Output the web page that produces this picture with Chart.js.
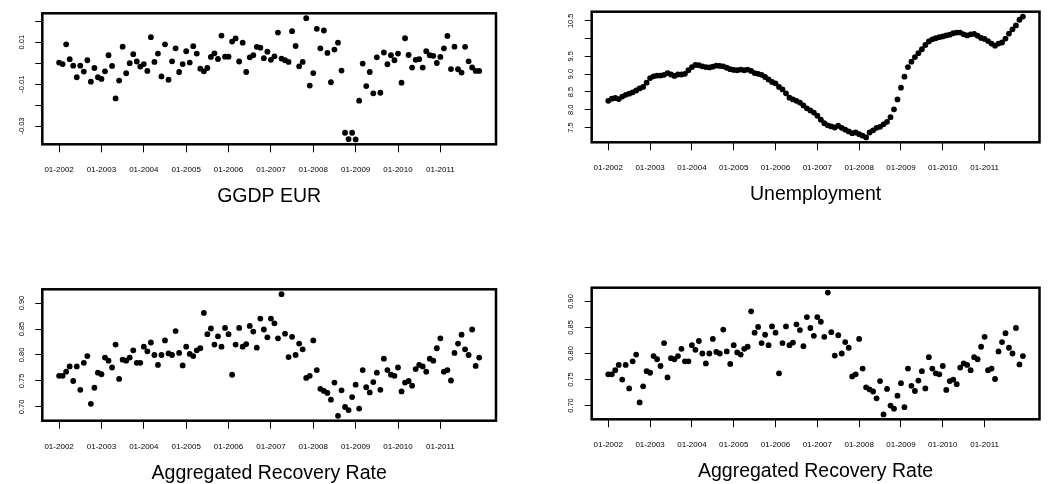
<!DOCTYPE html>
<html>
<head>
<meta charset="utf-8">
<script src="https://cdn.jsdelivr.net/npm/chart.js@4.4.1/dist/chart.umd.min.js"></script>
<style>
  html, body { margin: 0; padding: 0; background: #fff; }
  body { width: 1051px; height: 484px; position: relative; overflow: hidden; }
  canvas { position: absolute; }
</style>
</head>
<body>
<canvas id="pGgdp" width="525" height="242" style="left:0px;top:0px"></canvas>
<canvas id="pUnemp" width="526" height="242" style="left:525px;top:0px"></canvas>
<canvas id="pRate1" width="525" height="242" style="left:0px;top:242px"></canvas>
<canvas id="pRate2" width="526" height="242" style="left:525px;top:242px"></canvas>
<script>
// Monthly observations, January 2002 to December 2011
const years = [2002, 2003, 2004, 2005, 2006, 2007, 2008, 2009, 2010, 2011];
const monthNums = ["01", "02", "03", "04", "05", "06", "07", "08", "09", "10", "11", "12"];
const months = years.flatMap(y => monthNums.map(m => m + "-" + y));
const xTickLabels = ["01-2002", "01-2003", "01-2004", "01-2005", "01-2006",
                     "01-2007", "01-2008", "01-2009", "01-2010", "01-2011"];

const ggdpEur = [
   0.0003, -0.0004,  0.0090,  0.0019, -0.0012, -0.0067, -0.0012, -0.0040,  0.0014, -0.0088, -0.0023, -0.0067,
  -0.0075, -0.0039,  0.0038, -0.0013, -0.0168, -0.0083,  0.0079, -0.0048,  0.0000,  0.0043,  0.0008, -0.0016,
  -0.0004, -0.0037,  0.0124,  0.0006,  0.0046, -0.0063,  0.0090, -0.0079,  0.0009,  0.0071, -0.0042, -0.0004,
   0.0057,  0.0003,  0.0081,  0.0046, -0.0026, -0.0039, -0.0023,  0.0030,  0.0047,  0.0020,  0.0132,  0.0031,
   0.0031,  0.0103,  0.0118,  0.0008,  0.0098, -0.0042,  0.0028,  0.0038,  0.0078,  0.0074,  0.0024,  0.0055,
   0.0016,  0.0033,  0.0146,  0.0022,  0.0014,  0.0006,  0.0153,  0.0082, -0.0015,  0.0006,  0.0215, -0.0107,
  -0.0047,  0.0164,  0.0071,  0.0156,  0.0049, -0.0091,  0.0065,  0.0098, -0.0035, -0.0332, -0.0362, -0.0332,
  -0.0364, -0.0179, -0.0002, -0.0109, -0.0042, -0.0144,  0.0028, -0.0141,  0.0051, -0.0005,  0.0038,  0.0014,
   0.0046, -0.0093,  0.0119,  0.0039, -0.0021,  0.0016,  0.0019, -0.0021,  0.0057,  0.0038,  0.0035,  0.0001,
   0.0030,  0.0071,  0.0130, -0.0028,  0.0079, -0.0029, -0.0045,  0.0078,  0.0009, -0.0020, -0.0037, -0.0037
];
const ggdpTicks = [-0.03, -0.02, -0.01, 0, 0.01, 0.02];
const ggdpTickLabels = ["-0.03", "", "-0.01", "", "0.01", ""];

const unemployment = [
  8.25, 8.31, 8.33, 8.30, 8.37, 8.42, 8.45, 8.49, 8.54, 8.60, 8.64, 8.76,
  8.89, 8.94, 8.96, 8.96, 8.98, 9.03, 8.99, 8.95, 8.99, 8.99, 9.01, 9.11,
  9.20, 9.26, 9.25, 9.22, 9.20, 9.19, 9.21, 9.24, 9.23, 9.22, 9.18, 9.14,
  9.12, 9.11, 9.13, 9.11, 9.13, 9.09, 9.03, 9.01, 8.98, 8.92, 8.85, 8.78,
  8.74, 8.64, 8.57, 8.46, 8.34, 8.29, 8.25, 8.20, 8.12, 8.04, 7.98, 7.92,
  7.83, 7.72, 7.62, 7.56, 7.53, 7.50, 7.55, 7.49, 7.44, 7.39, 7.34, 7.36,
  7.31, 7.27, 7.22, 7.36, 7.42, 7.49, 7.52, 7.59, 7.66, 7.79, 8.01, 8.29,
  8.62, 8.93, 9.20, 9.35, 9.48, 9.59, 9.70, 9.82, 9.92, 9.98, 10.01, 10.04,
  10.06, 10.09, 10.11, 10.15, 10.17, 10.17, 10.12, 10.09, 10.12, 10.13, 10.08, 10.02,
  9.99, 9.93, 9.86, 9.80, 9.86, 9.89, 10.00, 10.14, 10.26, 10.37, 10.53, 10.62
];
const unempTicks = [7.5, 8.0, 8.5, 9.0, 9.5, 10.0, 10.5];
const unempTickLabels = ["7.5", "8.0", "8.5", "9.0", "9.5", "", "10.5"];

const recoveryRate = [
  0.760, 0.760, 0.768, 0.778, 0.750, 0.778, 0.733, 0.785, 0.798, 0.706, 0.737, 0.766,
  0.763, 0.795, 0.789, 0.776, 0.820, 0.754, 0.791, 0.789, 0.795, 0.809, 0.785, 0.785,
  0.816, 0.807, 0.824, 0.800, 0.781, 0.800, 0.828, 0.803, 0.800, 0.846, 0.804, 0.780,
  0.816, 0.802, 0.798, 0.809, 0.813, 0.881, 0.840, 0.851, 0.820, 0.836, 0.816, 0.852,
  0.840, 0.762, 0.820, 0.852, 0.816, 0.821, 0.856, 0.845, 0.814, 0.870, 0.849, 0.834,
  0.870, 0.861, 0.832, 0.917, 0.841, 0.796, 0.835, 0.800, 0.822, 0.811, 0.756, 0.760,
  0.828, 0.771, 0.735, 0.731, 0.727, 0.714, 0.747, 0.683, 0.732, 0.700, 0.694, 0.719,
  0.743, 0.697, 0.771, 0.738, 0.728, 0.748, 0.766, 0.733, 0.793, 0.771, 0.762, 0.760,
  0.776, 0.730, 0.747, 0.750, 0.741, 0.773, 0.781, 0.778, 0.768, 0.793, 0.789, 0.813,
  0.832, 0.768, 0.771, 0.751, 0.804, 0.822, 0.839, 0.811, 0.800, 0.849, 0.779, 0.795
];
const rateTicks = [0.70, 0.75, 0.80, 0.85, 0.90];
const rateTickLabels = ["0.70", "0.75", "0.80", "0.85", "0.90"];

const FONT = "'Liberation Sans', Arial, Helvetica, sans-serif";

// Thick frame around the plotting region
const framePlugin = {
  id: 'frame',
  afterDraw(chart) {
    const { ctx, chartArea: a } = chart;
    ctx.save();
    ctx.lineWidth = 2.5;
    ctx.strokeStyle = '#000';
    ctx.strokeRect(a.left, a.top, a.right - a.left, a.bottom - a.top);
    ctx.restore();
  }
};

// Axis limits padded by 4% of the data range on each side
function paddedRange(values) {
  const lo = Math.min(...values), hi = Math.max(...values);
  const d = (hi - lo) * 0.04;
  return [lo - d, hi + d];
}

function drawPanel(id, title, values, yTicks, yLabels, box) {
  const canvas = document.getElementById(id);
  const [ymin, ymax] = paddedRange(values);
  const [xmin, xmax] = paddedRange(values.map((_, i) => i));
  const xTickIdx = xTickLabels.map(l => months.indexOf(l));
  const xh = 62.45;                         // tick marks + labels + title
  const bottomPad = canvas.height - box.bottom - xh;

  new Chart(canvas, {
    type: 'scatter',
    data: {
      datasets: [{
        data: values.map((v, i) => ({ x: i, y: v })),
        pointRadius: 2.9,
        pointHoverRadius: 2.9,
        pointBackgroundColor: '#000',
        pointBorderWidth: 0,
        showLine: false
      }]
    },
    options: {
      responsive: false,
      animation: false,
      devicePixelRatio: 1,
      events: [],
      layout: { padding: { left: 0, top: box.top, right: canvas.width - box.right, bottom: bottomPad } },
      plugins: { legend: { display: false }, tooltip: { enabled: false } },
      scales: {
        x: {
          type: 'linear', position: 'bottom', min: xmin, max: xmax,
          afterBuildTicks: s => { s.ticks = xTickIdx.map(v => ({ value: v })); },
          afterFit: s => { s.height = xh; },
          grid: { drawOnChartArea: false, drawTicks: true, tickLength: 8, color: '#000', lineWidth: 1 },
          border: { display: false },
          ticks: {
            autoSkip: false, maxRotation: 0, minRotation: 0, padding: 13,
            color: '#000', font: { family: FONT, size: 8 },
            callback: v => months[v]
          },
          title: {
            display: true, text: title, color: '#000',
            font: { family: FONT, size: 19.5, lineHeight: 1 },
            padding: { top: 0, bottom: 0 }
          }
        },
        y: {
          type: 'linear', position: 'left', min: ymin, max: ymax,
          afterBuildTicks: s => { s.ticks = yTicks.map(v => ({ value: v })); },
          afterFit: s => { s.width = box.left; },
          grid: { drawOnChartArea: false, drawTicks: true, tickLength: 7, color: '#000', lineWidth: 1 },
          border: { display: false },
          ticks: {
            autoSkip: false, minRotation: 90, maxRotation: 90, crossAlign: 'center',
            padding: box.ypad, color: '#000', font: { family: FONT, size: 7.5 },
            callback: (v, i) => yLabels[i]
          }
        }
      }
    },
    plugins: [framePlugin]
  });
}

drawPanel('pGgdp',  'GGDP EUR', ggdpEur, ggdpTicks, ggdpTickLabels,
          { left: 42.3, top: 13.3, right: 496, bottom: 144.3, ypad: 5.0 });
drawPanel('pUnemp', 'Unemployment', unemployment, unempTicks, unempTickLabels,
          { left: 66.7, top: 11.7, right: 514.5, bottom: 142.3, ypad: 6.7 });
drawPanel('pRate1', 'Aggregated Recovery Rate', recoveryRate, rateTicks, rateTickLabels,
          { left: 42.3, top: 47.3, right: 496, bottom: 178.7, ypad: 6.3 });
drawPanel('pRate2', 'Aggregated Recovery Rate', recoveryRate, rateTicks, rateTickLabels,
          { left: 66.7, top: 45.7, right: 514.5, bottom: 177.3, ypad: 6.7 });
</script>
</body>
</html>
